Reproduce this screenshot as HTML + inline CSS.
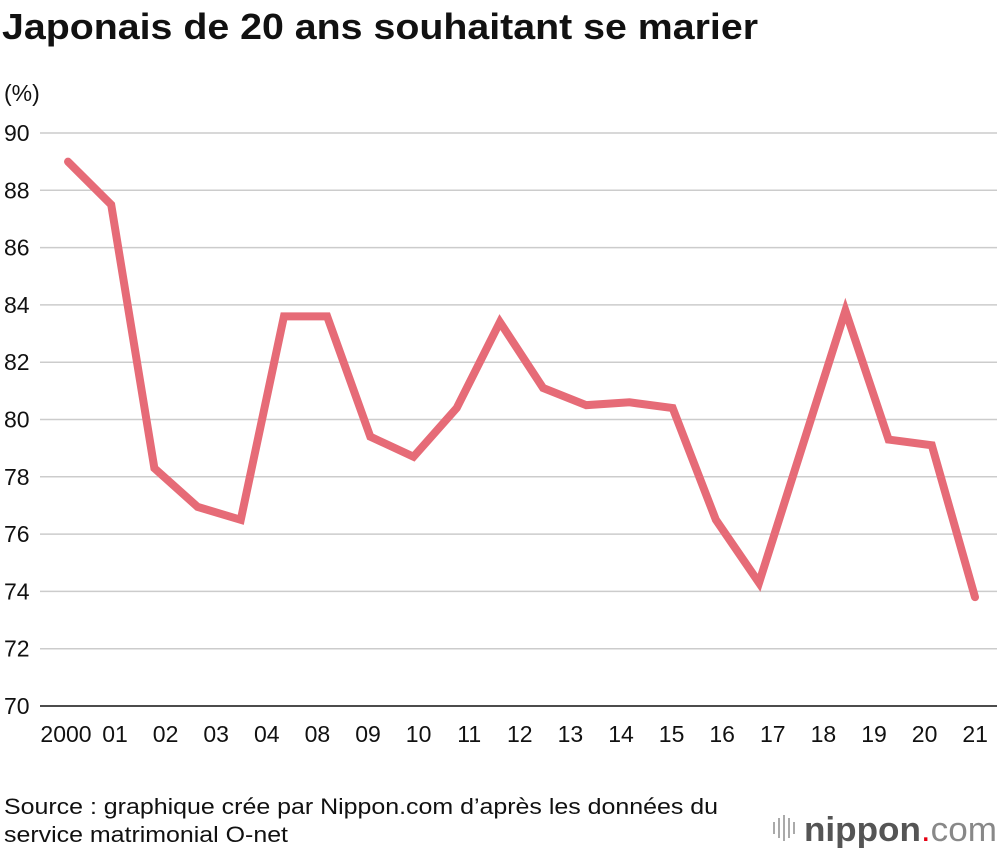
<!DOCTYPE html>
<html><head><meta charset="utf-8"><style>
body{margin:0;background:#fff;font-family:"Liberation Sans",Arial,sans-serif;}
svg text{font-family:"Liberation Sans",Arial,sans-serif;}
</style></head><body>
<svg width="1000" height="854" xmlns="http://www.w3.org/2000/svg">
<text x="2" y="39" font-size="36" font-weight="bold" fill="#111" textLength="756" lengthAdjust="spacingAndGlyphs">Japonais de 20 ans souhaitant se marier</text>
<text x="4" y="101" font-size="23" fill="#111">(%)</text>
<g id="grid"></g><g id="ylab"></g><g id="xlab"></g>
<polyline id="line" fill="none" stroke="#e66b77" stroke-width="8" stroke-linejoin="miter" stroke-linecap="round"/>
<text x="4" y="814" font-size="22" fill="#111" textLength="714" lengthAdjust="spacingAndGlyphs">Source : graphique crée par Nippon.com d’après les données du</text>
<text x="4" y="842" font-size="22" fill="#111" textLength="284" lengthAdjust="spacingAndGlyphs">service matrimonial O-net</text>
<g>
<rect x="773" y="822" width="2" height="12" fill="#aaa"/><rect x="778" y="818" width="2" height="20" fill="#aaa"/><rect x="783" y="815" width="2" height="26" fill="#aaa"/><rect x="788" y="818" width="2" height="20" fill="#aaa"/><rect x="793" y="822" width="2" height="12" fill="#aaa"/>
<text x="804" y="841" font-size="34" fill="#555" textLength="193" lengthAdjust="spacingAndGlyphs"><tspan font-weight="bold">nippon</tspan><tspan fill="#e60012">.</tspan><tspan fill="#888">com</tspan></text>
</g>
</svg>
<script>
const yTicks=[70,72,74,76,78,80,82,84,86,88,90];
const xLabels=["2000","01","02","03","04","08","09","10","11","12","13","14","15","16","17","18","19","20","21"];
const slots=[0,1,2,3,4,5,6,7,8,9,10,11,12,13,14,15,16,18,19,20,21];
const values=[89.0,87.5,78.3,76.95,76.5,83.6,83.6,79.4,78.7,80.4,83.4,81.1,80.5,80.6,80.4,76.5,74.3,83.8,79.3,79.1,73.8];
const NS="http://www.w3.org/2000/svg";
const y=v=>706-(v-70)*28.65;
const xs=i=>68+i*43.19;
const xl=i=>115+(i-1)*50.6;
const grid=document.getElementById('grid'),ylab=document.getElementById('ylab'),xlab=document.getElementById('xlab');
yTicks.forEach(t=>{
 const l=document.createElementNS(NS,'line');
 
 
 l.setAttribute('x1',40);l.setAttribute('x2',997);l.setAttribute('y1',y(t));l.setAttribute('y2',y(t));
 l.setAttribute('stroke',t===70?'#111':'#ccc');l.setAttribute('stroke-width',1.5);
 grid.appendChild(l);
 const tx=document.createElementNS(NS,'text');
 
 
 tx.setAttribute('x',4);tx.setAttribute('y',y(t)+8);tx.setAttribute('font-size','23');tx.setAttribute('fill','#111');
 tx.textContent=t;ylab.appendChild(tx);
});
xLabels.forEach((s,i)=>{
 const tx=document.createElementNS(NS,'text');
 
 
 tx.setAttribute('x',i===0?66:xl(i));tx.setAttribute('y',742);tx.setAttribute('font-size','23');tx.setAttribute('fill','#111');
 tx.setAttribute('text-anchor','middle');
 tx.textContent=s;xlab.appendChild(tx);
});
document.getElementById('line').setAttribute('points',values.map((v,i)=>xs(slots[i])+','+y(v)).join(' '));
</script>
</body></html>
